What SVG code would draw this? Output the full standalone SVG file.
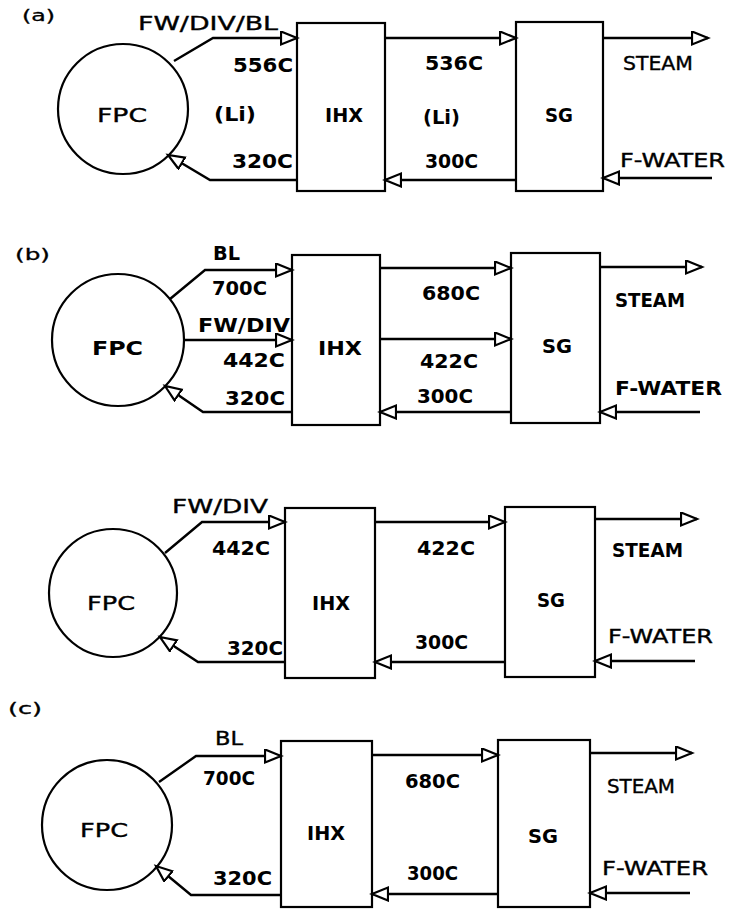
<svg xmlns="http://www.w3.org/2000/svg" width="729" height="909" viewBox="0 0 729 909">
<style>
.bg{fill:#fff}
.box{fill:none;stroke:#000;stroke-width:2.2}
.fpc{fill:none;stroke:#000;stroke-width:2.2}
.ln{fill:none;stroke:#000;stroke-width:2.4}
text{font-family:"DejaVu Sans","Liberation Sans",sans-serif;fill:#000;font-size:20px;font-weight:bold}
.th{font-weight:normal;stroke:#000;stroke-width:0.4}
.sm{font-size:15px;font-weight:normal;stroke:#000;stroke-width:0.3}
</style>
<defs>
<marker id="ah" markerUnits="userSpaceOnUse" markerWidth="20" markerHeight="17" refX="17" refY="7.5" orient="auto">
<path d="M1,1 L17,7.5 L1,14 Z" fill="#fff" stroke="#000" stroke-width="2.2"/>
</marker>
</defs>
<rect class="bg" x="0" y="0" width="729" height="909"/>

<!-- Panel (a) -->
<text class="sm" x="22" y="21" textLength="33" lengthAdjust="spacingAndGlyphs">(a)</text>
<g id="a-fpc"><circle class="fpc" cx="123" cy="109" r="65"/><text class="th" x="97" y="122" textLength="50" lengthAdjust="spacingAndGlyphs">FPC</text></g>
<g id="a-ihx"><rect class="box" x="297" y="23" width="88" height="168"/><text x="325" y="122" textLength="38" lengthAdjust="spacingAndGlyphs">IHX</text></g>
<g id="a-sg"><rect class="box" x="516" y="22" width="87" height="169"/><text x="545" y="122" textLength="28" lengthAdjust="spacingAndGlyphs">SG</text></g>
<g id="a-labels">
<text class="th" x="138" y="30" textLength="140" lengthAdjust="spacingAndGlyphs">FW/DIV/BL</text>
<text x="233" y="72" textLength="60" lengthAdjust="spacingAndGlyphs">556C</text>
<text x="214" y="121" textLength="42" lengthAdjust="spacingAndGlyphs">(Li)</text>
<text x="232" y="168" textLength="61" lengthAdjust="spacingAndGlyphs">320C</text>
<text x="425" y="70" textLength="58" lengthAdjust="spacingAndGlyphs">536C</text>
<text x="423" y="124" textLength="37" lengthAdjust="spacingAndGlyphs">(Li)</text>
<text x="425" y="168" textLength="53" lengthAdjust="spacingAndGlyphs">300C</text>
<text class="th" x="623" y="70" textLength="70" lengthAdjust="spacingAndGlyphs">STEAM</text>
<text class="th" x="620" y="167" textLength="105" lengthAdjust="spacingAndGlyphs">F-WATER</text>
</g>

<!-- Panel (b) -->
<text class="sm" x="15" y="260" textLength="35" lengthAdjust="spacingAndGlyphs">(b)</text>
<g id="b-fpc"><circle class="fpc" cx="118" cy="340" r="66"/><text x="92" y="355" textLength="51" lengthAdjust="spacingAndGlyphs">FPC</text></g>
<g id="b-ihx"><rect class="box" x="292" y="255" width="88" height="170"/><text x="318" y="355" textLength="44" lengthAdjust="spacingAndGlyphs">IHX</text></g>
<g id="b-sg"><rect class="box" x="511" y="253" width="89" height="170"/><text x="542" y="353" textLength="30" lengthAdjust="spacingAndGlyphs">SG</text></g>
<g id="b-labels">
<text x="213" y="260" textLength="27" lengthAdjust="spacingAndGlyphs">BL</text>
<text x="212" y="295" textLength="55" lengthAdjust="spacingAndGlyphs">700C</text>
<text x="198" y="332" textLength="92" lengthAdjust="spacingAndGlyphs">FW/DIV</text>
<text x="223" y="367" textLength="62" lengthAdjust="spacingAndGlyphs">442C</text>
<text x="225" y="405" textLength="60" lengthAdjust="spacingAndGlyphs">320C</text>
<text x="422" y="300" textLength="58" lengthAdjust="spacingAndGlyphs">680C</text>
<text x="420" y="368" textLength="58" lengthAdjust="spacingAndGlyphs">422C</text>
<text x="417" y="403" textLength="56" lengthAdjust="spacingAndGlyphs">300C</text>
<text x="615" y="307" textLength="70" lengthAdjust="spacingAndGlyphs">STEAM</text>
<text x="615" y="395" textLength="107" lengthAdjust="spacingAndGlyphs">F-WATER</text>
</g>

<!-- Panel (b) second -->
<g id="b2-fpc"><circle class="fpc" cx="113" cy="593" r="64"/><text class="th" x="87" y="610" textLength="48" lengthAdjust="spacingAndGlyphs">FPC</text></g>
<g id="b2-ihx"><rect class="box" x="285" y="508" width="90" height="170"/><text x="312" y="610" textLength="38" lengthAdjust="spacingAndGlyphs">IHX</text></g>
<g id="b2-sg"><rect class="box" x="505" y="507" width="90" height="170"/><text x="537" y="607" textLength="28" lengthAdjust="spacingAndGlyphs">SG</text></g>
<g id="b2-labels">
<text class="th" x="172" y="513" textLength="96" lengthAdjust="spacingAndGlyphs">FW/DIV</text>
<text x="212" y="555" textLength="58" lengthAdjust="spacingAndGlyphs">442C</text>
<text x="227" y="655" textLength="56" lengthAdjust="spacingAndGlyphs">320C</text>
<text x="417" y="555" textLength="58" lengthAdjust="spacingAndGlyphs">422C</text>
<text x="415" y="649" textLength="53" lengthAdjust="spacingAndGlyphs">300C</text>
<text x="612" y="557" textLength="71" lengthAdjust="spacingAndGlyphs">STEAM</text>
<text class="th" x="608" y="643" textLength="105" lengthAdjust="spacingAndGlyphs">F-WATER</text>
</g>

<!-- Panel (c) -->
<text class="sm" x="8" y="714" textLength="34" lengthAdjust="spacingAndGlyphs">(c)</text>
<g id="c-fpc"><circle class="fpc" cx="107" cy="825" r="65"/><text class="th" x="80" y="837" textLength="48" lengthAdjust="spacingAndGlyphs">FPC</text></g>
<g id="c-ihx"><rect class="box" x="281" y="741" width="91" height="166"/><text x="307" y="840" textLength="38" lengthAdjust="spacingAndGlyphs">IHX</text></g>
<g id="c-sg"><rect class="box" x="498" y="740" width="92" height="167"/><text x="528" y="843" textLength="30" lengthAdjust="spacingAndGlyphs">SG</text></g>
<g id="c-labels">
<text class="th" x="215" y="745" textLength="28" lengthAdjust="spacingAndGlyphs">BL</text>
<text x="203" y="785" textLength="52" lengthAdjust="spacingAndGlyphs">700C</text>
<text x="213" y="885" textLength="59" lengthAdjust="spacingAndGlyphs">320C</text>
<text x="405" y="788" textLength="55" lengthAdjust="spacingAndGlyphs">680C</text>
<text x="407" y="880" textLength="51" lengthAdjust="spacingAndGlyphs">300C</text>
<text class="th" x="607" y="793" textLength="68" lengthAdjust="spacingAndGlyphs">STEAM</text>
<text class="th" x="602" y="875" textLength="106" lengthAdjust="spacingAndGlyphs">F-WATER</text>
</g>

<g id="connectors">
<path class="ln" d="M174,61 L213,38 L297,38" marker-end="url(#ah)"/>
<path class="ln" d="M297,180 L210,180 L168,155" marker-end="url(#ah)"/>
<path class="ln" d="M385,38 L516,38" marker-end="url(#ah)"/>
<path class="ln" d="M516,180 L385,180" marker-end="url(#ah)"/>
<path class="ln" d="M603,38 L708,38" marker-end="url(#ah)"/>
<path class="ln" d="M712,178 L603,178" marker-end="url(#ah)"/>

<path class="ln" d="M170,299 L205,270 L292,270" marker-end="url(#ah)"/>
<path class="ln" d="M184,340 L292,340" marker-end="url(#ah)"/>
<path class="ln" d="M292,412 L203,412 L165,386" marker-end="url(#ah)"/>
<path class="ln" d="M380,268 L511,268" marker-end="url(#ah)"/>
<path class="ln" d="M380,339 L511,339" marker-end="url(#ah)"/>
<path class="ln" d="M511,412 L380,412" marker-end="url(#ah)"/>
<path class="ln" d="M600,267 L702,267" marker-end="url(#ah)"/>
<path class="ln" d="M700,412 L600,412" marker-end="url(#ah)"/>

<path class="ln" d="M165,553 L202,522 L285,522" marker-end="url(#ah)"/>
<path class="ln" d="M285,662 L198,662 L160,637" marker-end="url(#ah)"/>
<path class="ln" d="M375,522 L505,522" marker-end="url(#ah)"/>
<path class="ln" d="M505,662 L375,662" marker-end="url(#ah)"/>
<path class="ln" d="M595,519 L697,519" marker-end="url(#ah)"/>
<path class="ln" d="M695,661 L595,661" marker-end="url(#ah)"/>

<path class="ln" d="M159,782 L196,756 L281,756" marker-end="url(#ah)"/>
<path class="ln" d="M281,895 L191,895 L156,866" marker-end="url(#ah)"/>
<path class="ln" d="M372,755 L498,755" marker-end="url(#ah)"/>
<path class="ln" d="M498,894 L372,894" marker-end="url(#ah)"/>
<path class="ln" d="M590,753 L692,753" marker-end="url(#ah)"/>
<path class="ln" d="M690,893 L590,893" marker-end="url(#ah)"/>
</g>
</svg>
